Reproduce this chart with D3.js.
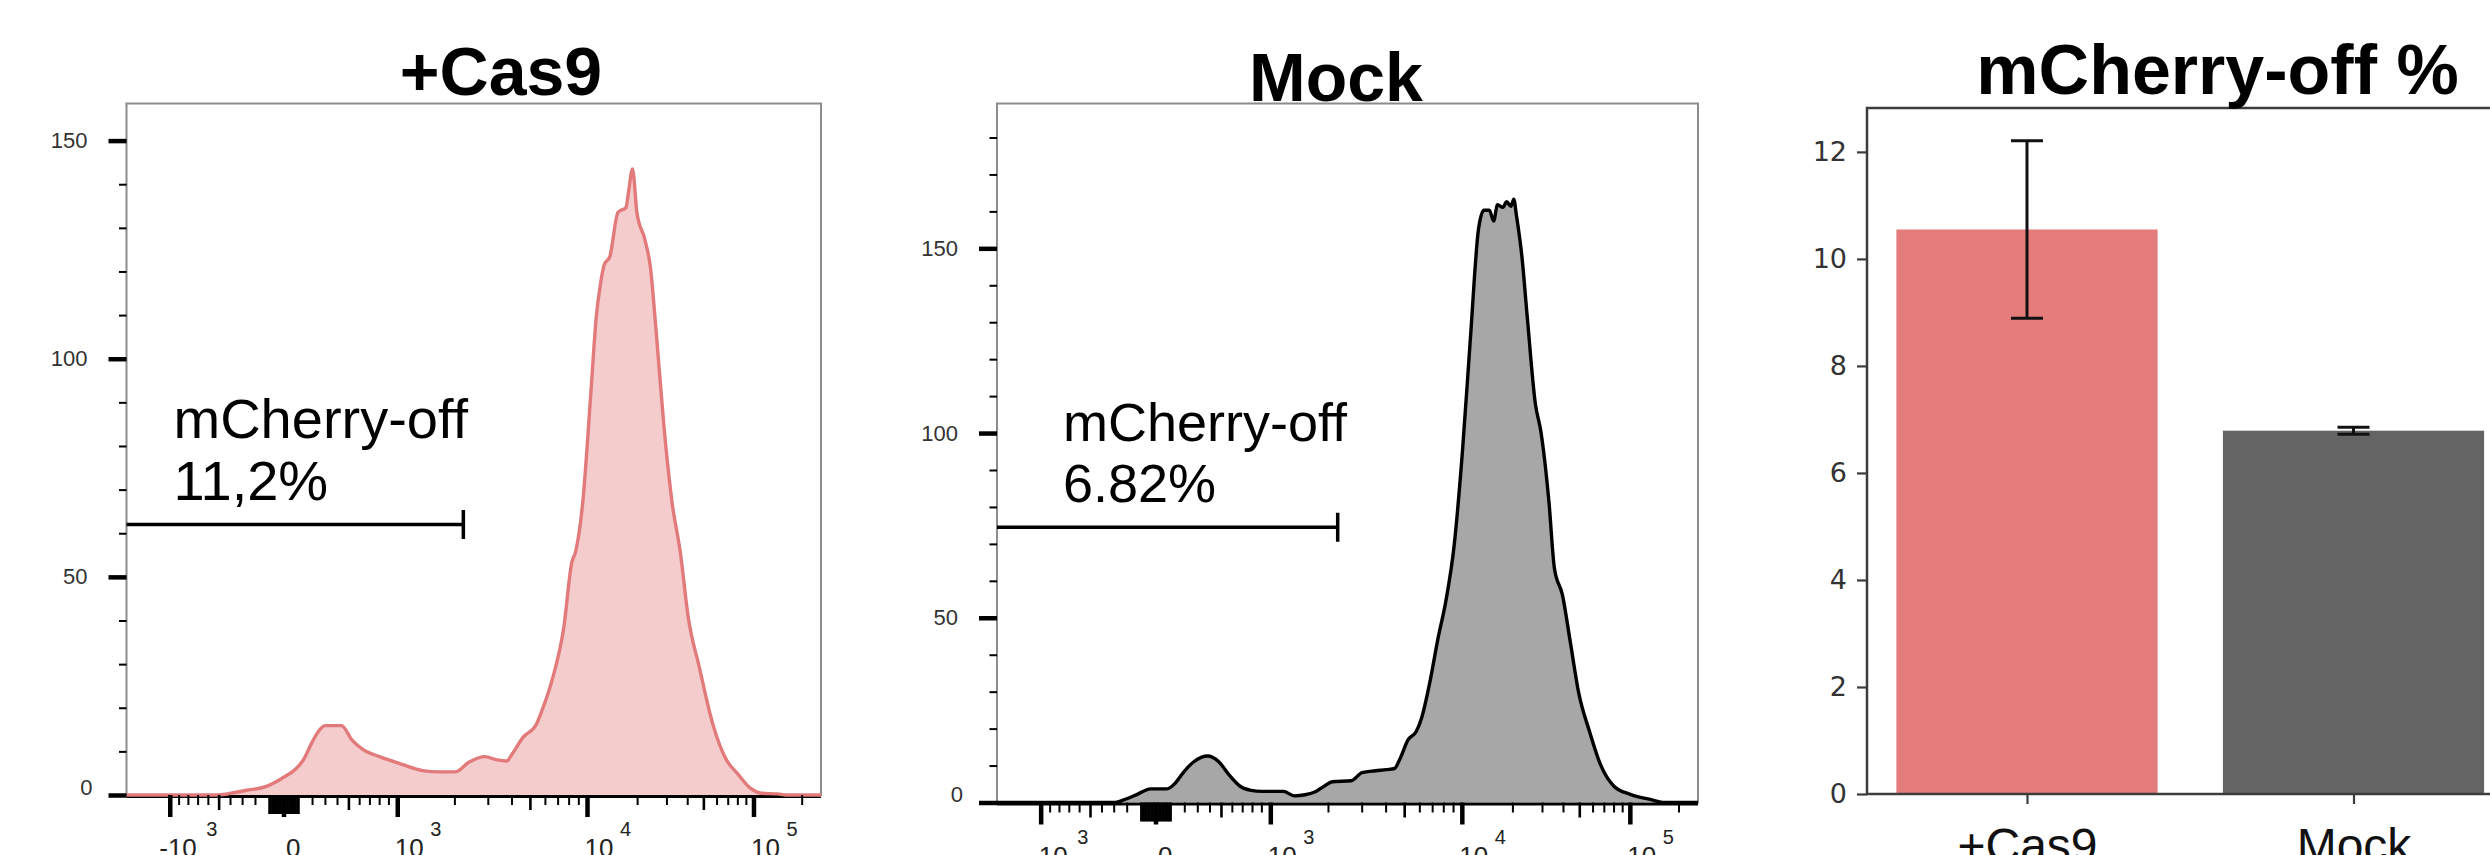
<!DOCTYPE html>
<html>
<head>
<meta charset="utf-8">
<script src="https://cdn.jsdelivr.net/npm/d3@7"></script>
<style>
  body { margin: 0; background: #fff; }
  svg { display: block; }
</style>
</head>
<body>
<svg id="fig" width="2490" height="855"></svg>
<script>
// histogram x positions are display channels (0 = left edge, 1000 = right edge of the axis),
// y values are cell counts per bin
var cas9Channel = [0, 130, 172.9, 200.3, 223.6, 243.2, 254.9, 266.6, 278.3, 286.1, 309.5, 325.1, 340.7,
  364.1, 395.4, 426.6, 450.0, 473.4, 492.9, 516.3, 531.9, 547.5, 555.3, 570.9, 590.4, 598.3, 613.8,
  629.5, 641.2, 646.7, 656.9, 668.6, 676.4, 682.5, 688.0, 695.9, 707.6, 719.3, 723.1, 728.6, 734.9,
  746.6, 754.4, 762.2, 773.8, 785.6, 797.3, 808.9, 824.6, 844.1, 863.6, 879.2, 898.8, 914.3, 937.8,
  949.5, 1000];
var cas9Count = [0, 0, 1.1, 1.9, 3.8, 5.9, 8.1, 11.9, 15.0, 15.9, 15.9, 12.5, 10.4,
  8.8, 7.1, 5.6, 5.3, 5.3, 7.5, 8.8, 8.1, 7.8, 9.4, 13.2, 16.3, 19.4, 26.9,
  38.2, 53.3, 55.8, 67.0, 92.1, 109.6, 117.2, 121.6, 123.4, 133.5, 134.7, 138.5, 143.5, 133.5,
  127.2, 120.9, 107.1, 84.6, 67.0, 55.8, 40.7, 29.4, 16.3, 8.1, 5.0, 1.5, 0.4, 0.25,
  0, 0];

var mockChannel = [0, 169, 180.7, 200.1, 219.3, 242.5, 254.1, 265.7, 281.2, 300.4, 316.0, 331.4, 346.8,
  362.3, 377.7, 408.7, 424.1, 439.6, 455.0, 466.6, 478.3, 505.3, 520.8, 540.0, 555.5, 567.1, 574.8,
  586.5, 598.0, 605.7, 617.4, 629.0, 640.5, 652.1, 663.8, 675.3, 686.9, 694.6, 702.4, 708.5, 714.0,
  721.7, 727.1, 733.2, 737.2, 741.0, 748.8, 756.4, 768.0, 775.8, 787.4, 795.1, 806.6, 818.3, 829.9,
  845.3, 860.8, 880.1, 903.3, 934.3, 949.7, 1000];
var mockCount = [0, 0, 0.7, 2.2, 3.7, 3.7, 5.2, 8.1, 11.1, 12.6, 11.1, 7.4, 4.4,
  3.3, 3.0, 3.0, 1.8, 2.1, 3.0, 4.4, 5.6, 5.9, 8.1, 8.6, 8.9, 9.2, 11.8,
  17.0, 19.2, 22.9, 32.5, 44.3, 54.7, 69.5, 94.6, 125.6, 155.2, 160.3, 160.3, 157.4, 161.8,
  161.1, 162.6, 161.4, 163.3, 158.9, 147.8, 131.5, 107.9, 100.5, 81.3, 63.5, 56.2, 42.9, 29.6,
  19.2, 10.3, 4.4, 2.2, 0.7, 0, 0];

// gate: right end (channel), height (count), label
var gateEnd = [485, 486];
var gateCount = [62, 74.5];
var gateName = ["mCherry-off", "mCherry-off"];
var gatePct = ["11,2%", "6.82%"];

// fluorescence axis ticks
var xMajorValues = [-1000, 0, 1000, 10000, 100000];
var xMajorBase = ["-10", "0", "10", "10", "10"];
var xMajorExp = ["3", "", "3", "4", "5"];
var histYTicks = [0, 50, 100, 150];

// summary bar chart
var groups = ["+Cas9", "Mock"];
var offMean = [10.55, 6.79];
var offErr = [1.66, 0.065];
var barYTicks = [0, 2, 4, 6, 8, 10, 12];

var FONT = "'Liberation Sans', Arial, Helvetica, sans-serif";
var svg = d3.select("#fig");
svg.append("rect").attr("width", 2490).attr("height", 855).attr("fill", "#fff");

// biexponential-like display transform: linear-ish around 0, log above 10^3
function biex(v) {
  if (v >= 1000) return Math.log10(v);
  if (v <= -1000) return -Math.log10(-v);
  return Math.sign(v) * 3 * Math.log1p(Math.abs(v) / 1300) / Math.log1p(1000 / 1300);
}
var channelOf = d3.scaleLinear()
  .domain([-3.6, -3, 0, 3, 4, 5, Math.log10(262144)])
  .range([0, 63, 226.8, 390.6, 663.8, 903.5, 1000]);

// tick groups: [values, length, width]
var nearZero = [-100, 100], minorX = [], mediumX = [-500, 500, 5000, 50000];
d3.range(1, 10).forEach(function(k) {
  nearZero.push(-k * 10, k * 10);
  if (k !== 5 && k !== 1) minorX.push(-k * 100, k * 100);
  if (k > 1 && k !== 5) minorX.push(k * 1000, k * 10000);
});
minorX.push(200000);
var xTickGroups = [
  [minorX, 10, 2],
  [nearZero, 19, 2],
  [mediumX, 15, 2.6],
  [xMajorValues, 22, 4.5]
];

var panels = [
  {title: "+Cas9", titleX: 501, titleY: 95, ch: cas9Channel, counts: cas9Count,
   left: 126.5, right: 821, top: 103.5, bottom: 795, yMax: 158.5,
   fill: "#f5cccc", stroke: "#e27a7b", labelDx: 47, labelSize: 56, gate: 0},
  {title: "Mock", titleX: 1336, titleY: 101, ch: mockChannel, counts: mockCount,
   left: 997, right: 1698, top: 103.5, bottom: 802.5, yMax: 189.2,
   fill: "#a7a7a7", stroke: "#000", labelDx: 66, labelSize: 54, gate: 1}
];

panels.forEach(function(p) {
  var g = svg.append("g");
  var x = d3.scaleLinear().domain([0, 1000]).range([p.left, p.right]);
  var y = d3.scaleLinear().domain([0, p.yMax]).range([p.bottom, p.top]);
  var xv = function(v) { return x(channelOf(biex(v))); };
  var pts = d3.zip(p.ch, p.counts);

  g.append("rect")
    .attr("x", p.left).attr("y", p.top)
    .attr("width", p.right - p.left).attr("height", p.bottom - p.top)
    .attr("fill", "none").attr("stroke", "#8c8c8c").attr("stroke-width", 2);

  g.append("line")
    .attr("x1", p.left).attr("x2", p.right)
    .attr("y1", p.bottom + 1.5).attr("y2", p.bottom + 1.5)
    .attr("stroke", "#000").attr("stroke-width", 3);

  g.append("path")
    .attr("d", d3.area().x(function(d) { return x(d[0]); }).y0(y(0))
      .y1(function(d) { return y(d[1]); }).curve(d3.curveMonotoneX)(pts))
    .attr("fill", p.fill);
  g.append("path")
    .attr("d", d3.line().x(function(d) { return x(d[0]); })
      .y(function(d) { return y(d[1]); }).curve(d3.curveMonotoneX)(pts))
    .attr("fill", "none").attr("stroke", p.stroke)
    .attr("stroke-width", 3.4).attr("stroke-linejoin", "round");

  // y axis
  var yMinor = g.append("g").attr("transform", "translate(" + p.left + ",0)")
    .call(d3.axisLeft(y).tickValues(d3.range(0, p.yMax, 10).filter(function(v) { return v % 50; }))
      .tickSize(7.5).tickFormat(""));
  yMinor.select(".domain").remove();
  yMinor.selectAll("line").attr("stroke", "#000").attr("stroke-width", 2);

  var yMajor = g.append("g").attr("transform", "translate(" + p.left + ",0)")
    .call(d3.axisLeft(y).tickValues(histYTicks).tickSize(18).tickPadding(21));
  yMajor.select(".domain").remove();
  yMajor.selectAll("line").attr("stroke", "#000").attr("stroke-width", 4.5);
  yMajor.selectAll("text").attr("font-family", FONT).attr("font-size", 22).attr("fill", "#333")
    .filter(function(d) { return d === 0; }).attr("transform", "translate(5,-8)");

  // x axis ticks
  xTickGroups.forEach(function(tg, k) {
    g.selectAll(".xt" + k).data(tg[0]).join("line").attr("class", "xt" + k)
      .attr("x1", xv).attr("x2", xv).attr("y1", p.bottom).attr("y2", p.bottom + tg[1])
      .attr("stroke", "#000").attr("stroke-width", tg[2]);
  });

  var lab = g.selectAll(".xlab").data(xMajorValues).join("text").attr("class", "xlab")
    .attr("x", function(v) { return xv(v) + (v < 0 ? -11 : (v === 0 ? 2 : -3)); })
    .attr("y", p.bottom + 62)
    .attr("font-family", FONT).attr("font-size", 26).attr("fill", "#222")
    .text(function(v, i) { return xMajorBase[i]; });
  lab.append("tspan")
    .attr("dx", function(v) { return v < 0 ? 9.5 : 6.5; }).attr("dy", -21).attr("font-size", 20)
    .text(function(v, i) { return xMajorExp[i]; });

  // gate
  var gy = y(gateCount[p.gate]), gx = x(gateEnd[p.gate]);
  g.append("line").attr("x1", p.left).attr("x2", gx).attr("y1", gy).attr("y2", gy)
    .attr("stroke", "#000").attr("stroke-width", 3.5);
  g.append("line").attr("x1", gx).attr("x2", gx).attr("y1", gy - 14.5).attr("y2", gy + 14.5)
    .attr("stroke", "#000").attr("stroke-width", 3.5);
  g.append("text").attr("x", p.left + p.labelDx).attr("y", gy - 86.5)
    .attr("font-family", FONT).attr("font-size", p.labelSize).text(gateName[p.gate]);
  g.append("text").attr("x", p.left + p.labelDx).attr("y", gy - 25)
    .attr("font-family", FONT).attr("font-size", p.labelSize).text(gatePct[p.gate]);

  svg.append("text").attr("x", p.titleX).attr("y", p.titleY).attr("text-anchor", "middle")
    .attr("font-family", FONT).attr("font-weight", "bold").attr("font-size", 68)
    .text(p.title);
});

// bar chart of mCherry-off percentages
var bx = d3.scaleLinear().domain([-0.49, 1.49]).range([1867, 2513.5]);
var barTop = d3.max(offMean, function(m, i) { return m + offErr[i]; }) * 1.05;
var by = d3.scaleLinear().domain([0, barTop]).range([794, 108]);
var bg = svg.append("g");

bg.selectAll(".bar").data(offMean).join("rect").attr("class", "bar")
  .attr("x", function(m, i) { return bx(i - 0.4); })
  .attr("width", bx(0.8) - bx(0))
  .attr("y", function(m) { return by(m); })
  .attr("height", function(m) { return by(0) - by(m); })
  .attr("fill", function(m, i) { return i === 0 ? "#e57c7c" : "#646464"; });

bg.selectAll(".err").data(offMean).join("line").attr("class", "err")
  .attr("x1", function(m, i) { return bx(i); }).attr("x2", function(m, i) { return bx(i); })
  .attr("y1", function(m, i) { return by(m - offErr[i]); })
  .attr("y2", function(m, i) { return by(m + offErr[i]); })
  .attr("stroke", "#111").attr("stroke-width", 3);
[-1, 1].forEach(function(s) {
  bg.selectAll(".cap" + s).data(offMean).join("line").attr("class", "cap" + s)
    .attr("x1", function(m, i) { return bx(i) - 16; }).attr("x2", function(m, i) { return bx(i) + 16; })
    .attr("y1", function(m, i) { return by(m + s * offErr[i]); })
    .attr("y2", function(m, i) { return by(m + s * offErr[i]); })
    .attr("stroke", "#111").attr("stroke-width", 3);
});

bg.append("rect")
  .attr("x", bx(-0.49)).attr("y", by(barTop))
  .attr("width", bx(1.49) - bx(-0.49)).attr("height", by(0) - by(barTop))
  .attr("fill", "none").attr("stroke", "#3c3c3c").attr("stroke-width", 2.5);

var byAxis = bg.append("g").attr("transform", "translate(" + bx(-0.49) + ",0)")
  .call(d3.axisLeft(by).tickValues(barYTicks).tickSize(10).tickPadding(10));
byAxis.select(".domain").remove();
byAxis.selectAll("line").attr("stroke", "#3c3c3c").attr("stroke-width", 2.2);
byAxis.selectAll("text").attr("font-family", "'DejaVu Sans', sans-serif")
  .attr("font-size", 27).attr("fill", "#333");

var bxAxis = bg.append("g").attr("transform", "translate(0," + by(0) + ")")
  .call(d3.axisBottom(bx).tickValues([0, 1]).tickSize(10).tickPadding(24)
    .tickFormat(function(i) { return groups[i]; }));
bxAxis.select(".domain").remove();
bxAxis.selectAll("line").attr("stroke", "#3c3c3c").attr("stroke-width", 2.2);
bxAxis.selectAll("text").attr("font-family", FONT).attr("font-size", 48).attr("fill", "#111");

svg.append("text").attr("x", 2217.5).attr("y", 94).attr("text-anchor", "middle")
  .attr("font-family", FONT).attr("font-weight", "bold").attr("font-size", 70)
  .text("mCherry-off %");
</script>
</body>
</html>
